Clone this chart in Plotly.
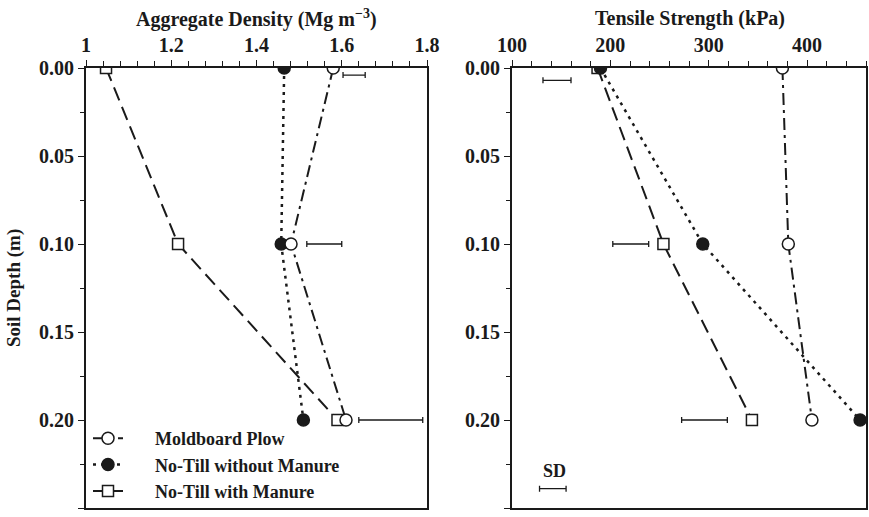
import plotly.graph_objects as go

# ---------------- data ----------------
depth = [0.00, 0.10, 0.20]

# Aggregate density (Mg m^-3)
dens_mp = [1.58, 1.481, 1.61]
dens_nt = [1.465, 1.458, 1.51]
dens_ntm = [1.047, 1.216, 1.59]

# Tensile strength (kPa)
ts_mp = [375, 381, 405]
ts_nt = [190, 294, 454]
ts_ntm = [187, 254, 344]

# SD bars (horizontal): depth, low, high
sd_dens_depth = [0.004, 0.10, 0.20]
sd_dens_lo = [1.603, 1.518, 1.640]
sd_dens_hi = [1.655, 1.600, 1.790]

sd_ts_depth = [0.007, 0.10, 0.20, 0.239]
sd_ts_lo = [131.5, 202.5, 272.5, 128]
sd_ts_hi = [160, 239, 319, 155]

series_names = ["Moldboard Plow", "No-Till without Manure", "No-Till with Manure"]

FONT = "Liberation Serif"
INK = "#1a1a1a"
W, H = 869, 517
PAD = "\u00a0" * 6

fig = go.Figure()

def add_panel(xs_mp, xs_nt, xs_ntm, xa, ya, legend):
    # square series first so circles are drawn on top
    fig.add_trace(go.Scatter(
        x=xs_ntm, y=depth, xaxis=xa, yaxis=ya, mode="lines+markers",
        name=PAD + series_names[2], showlegend=legend, legendrank=3,
        line=dict(color=INK, width=2, dash="14px,7px"),
        marker=dict(symbol="square", size=11, color="white",
                    line=dict(color=INK, width=1.5))))
    fig.add_trace(go.Scatter(
        x=xs_nt, y=depth, xaxis=xa, yaxis=ya, mode="lines+markers",
        name=PAD + series_names[1], showlegend=legend, legendrank=2,
        line=dict(color=INK, width=2.5, dash="3px,5px"),
        marker=dict(symbol="circle", size=12, color=INK,
                    line=dict(color=INK, width=1.5))))
    fig.add_trace(go.Scatter(
        x=xs_mp, y=depth, xaxis=xa, yaxis=ya, mode="lines+markers",
        name=PAD + series_names[0], showlegend=legend, legendrank=1,
        line=dict(color=INK, width=2, dash="12px,5px,3px,5px"),
        marker=dict(symbol="circle", size=12, color="white",
                    line=dict(color=INK, width=1.5))))

def add_sd(dep, lo, hi, xa, ya):
    centers = [(a + b) / 2 for a, b in zip(lo, hi)]
    halfw = [(b - a) / 2 for a, b in zip(lo, hi)]
    fig.add_trace(go.Scatter(
        x=centers, y=dep, xaxis=xa, yaxis=ya, mode="markers",
        showlegend=False, hoverinfo="skip",
        marker=dict(size=1, color="rgba(0,0,0,0)"),
        error_x=dict(type="data", array=halfw, symmetric=True,
                     color=INK, thickness=1.3, width=3)))

add_panel(dens_mp, dens_nt, dens_ntm, "x", "y", True)
add_sd(sd_dens_depth, sd_dens_lo, sd_dens_hi, "x", "y")
add_panel(ts_mp, ts_nt, ts_ntm, "x2", "y2", False)
add_sd(sd_ts_depth, sd_ts_lo, sd_ts_hi, "x2", "y2")

tickfont = dict(family=FONT, size=20, color=INK, weight="bold")

def xax(domain, rng, dtick, minor, anchor):
    return dict(domain=domain, range=rng, dtick=dtick, tick0=rng[0], side="top",
                anchor=anchor, ticks="outside", ticklen=6, tickwidth=1.3, tickcolor=INK,
                minor=dict(dtick=minor, tick0=rng[0], ticks="outside", ticklen=5,
                           tickwidth=1.3, tickcolor=INK),
                showline=True, linewidth=2, linecolor=INK, mirror=True,
                showgrid=False, zeroline=False, tickfont=tickfont, automargin=False)

def yax(anchor):
    return dict(domain=[1 - 508 / H, 1 - 68 / H], range=[0.25, 0], dtick=0.05, tick0=0,
                tickformat=".2f", anchor=anchor, ticks="outside", ticklen=6, tickwidth=1.3,
                tickcolor=INK,
                minor=dict(dtick=0.025, ticks="outside", ticklen=4, tickwidth=1.3, tickcolor=INK),
                showline=True, linewidth=2, linecolor=INK, mirror=True,
                showgrid=False, zeroline=False, tickfont=tickfont, automargin=False)

fig.update_layout(
    width=W, height=H,
    margin=dict(l=0, r=0, t=0, b=0),
    paper_bgcolor="white", plot_bgcolor="white",
    xaxis=xax([86 / W, 427 / W], [1, 1.8], 0.2, 0.04, "y"),
    yaxis=yax("x"),
    xaxis2=xax([512 / W, 866 / W], [100, 460], 100, 20, "y2"),
    yaxis2=yax("x2"),
    legend=dict(x=88 / W, y=1 - 420 / H, xanchor="left", yanchor="top",
                bgcolor="rgba(0,0,0,0)", tracegroupgap=0,
                font=dict(family=FONT, size=18, color=INK, weight="bold")),
    showlegend=True,
    annotations=[
        dict(text="Aggregate Density (Mg m<sup>−3</sup>)", x=256 / W, y=1 - 18 / H,
             xref="paper", yref="paper", showarrow=False, xanchor="center", yanchor="middle",
             font=dict(family=FONT, size=20, color=INK, weight="bold")),
        dict(text="Tensile Strength (kPa)", x=690 / W, y=1 - 18 / H,
             xref="paper", yref="paper", showarrow=False, xanchor="center", yanchor="middle",
             font=dict(family=FONT, size=20, color=INK, weight="bold")),
        dict(text="Soil Depth (m)", x=14 / W, y=1 - 288 / H, textangle=-90,
             xref="paper", yref="paper", showarrow=False, xanchor="center", yanchor="middle",
             font=dict(family=FONT, size=19, color=INK, weight="bold")),
        dict(text="SD", x=143.6, y=0.229, xref="x2", yref="y2", showarrow=False,
             font=dict(family=FONT, size=18, color=INK, weight="bold")),
    ],
)

fig.write_html("out.html")
